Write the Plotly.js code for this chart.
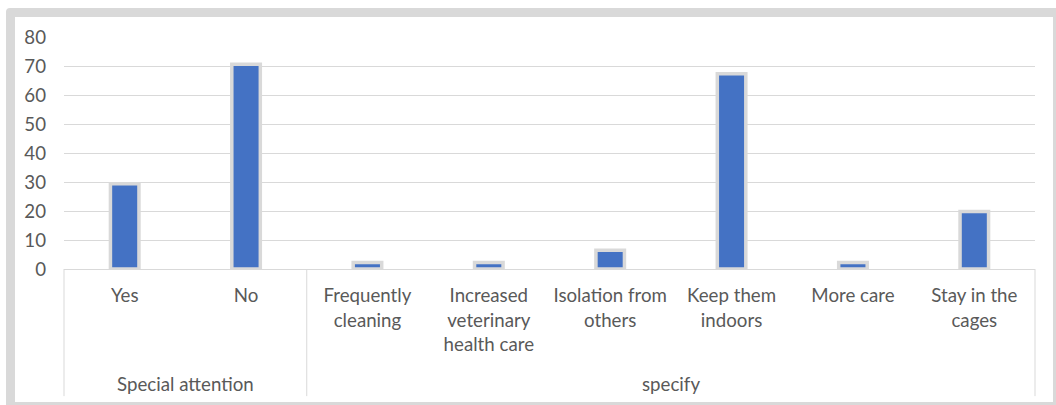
<!DOCTYPE html>
<html>
<head>
<meta charset="utf-8">
<script src="https://cdn.plot.ly/plotly-3.0.1.min.js"></script>
<style>
  html, body { margin: 0; padding: 0; background: #ffffff; }
  #wrap { position: relative; width: 1056px; height: 405px; overflow: hidden; }
  #frame {
    position: absolute; left: 6px; top: 8px; width: 1050px; height: 397px;
    box-sizing: border-box; background: #ffffff;
    border-style: solid; border-color: #d9d9d9;
    border-width: 9px 3px 3px 9px; border-top-left-radius: 4px;
  }
  #chart { position: absolute; left: 0; top: 0; width: 1056px; height: 405px; }
</style>
</head>
<body>
<div id="wrap">
  <div id="frame"></div>
  <div id="chart"></div>
</div>
<script>
// Answers per category (percent of respondents)
const categories = ['Yes', 'No', 'Frequently cleaning', 'Increased veterinary health care',
  'Isolation from others', 'Keep them indoors', 'More care', 'Stay in the cages'];
const values = [29.4, 70.6, 2.2, 2.2, 6.5, 67.3, 2.2, 19.8];
const tickLabels = ['Yes', 'No', 'Frequently<br>cleaning', 'Increased<br>veterinary<br>health care',
  'Isolation from<br>others', 'Keep them<br>indoors', 'More care', 'Stay in the<br>cages'];
// Question groups along the category axis
const groups = ['Special attention', 'specify'];
const groupSizes = [2, 6];
const yTicks = [0, 10, 20, 30, 40, 50, 60, 70, 80];

const FONT = 'Lato, "Open Sans", sans-serif';
const FS = 18.7;
const TEXT = '#595959';
const LINE = '#d9d9d9';

const total = groupSizes.reduce((a, b) => a + b, 0);
const shapes = [];
const annotations = [];
let start = 0;
// Left edge divider
shapes.push({type: 'line', xref: 'paper', yref: 'paper', x0: 0, x1: 0, y0: 0, y1: -0.548,
  line: {color: LINE, width: 1}});
groups.forEach((g, i) => {
  const end = start + groupSizes[i];
  annotations.push({
    text: g, xref: 'x', yref: 'paper', x: (start + end - 1) / 2, y: -0.495,
    xanchor: 'center', yanchor: 'middle', showarrow: false,
    font: {family: FONT, size: FS, color: TEXT}
  });
  shapes.push({type: 'line', xref: 'paper', yref: 'paper', x0: end / total, x1: end / total,
    y0: 0, y1: -0.548, line: {color: LINE, width: 1}});
  start = end;
});

const trace = {
  type: 'bar',
  x: categories,
  y: values,
  marker: {color: '#4472c4', line: {color: LINE, width: 3.5}},
  width: 0.235,
  hoverinfo: 'x+y'
};

const layout = {
  width: 1056, height: 405,
  margin: {l: 64, r: 21, t: 37, b: 136, pad: 0},
  paper_bgcolor: 'rgba(0,0,0,0)',
  plot_bgcolor: 'rgba(0,0,0,0)',
  showlegend: false,
  font: {family: FONT, size: FS, color: TEXT},
  xaxis: {
    type: 'category',
    tickvals: categories, ticktext: tickLabels,
    showgrid: false, zeroline: false,
    showline: true, linecolor: LINE, linewidth: 1,
    ticks: '', ticklabelstandoff: 10,
    tickfont: {family: FONT, size: FS, color: TEXT},
    range: [-0.5, categories.length - 0.5], fixedrange: true
  },
  yaxis: {
    range: [0, 80], tickvals: yTicks,
    showgrid: true, gridcolor: LINE, gridwidth: 1,
    zeroline: false, showline: false, ticks: '',
    ticklabelstandoff: 17,
    tickfont: {family: FONT, size: FS, color: TEXT},
    fixedrange: true
  },
  shapes: shapes,
  annotations: annotations
};

Plotly.newPlot('chart', [trace], layout, {displayModeBar: false, staticPlot: true});
</script>
</body>
</html>
